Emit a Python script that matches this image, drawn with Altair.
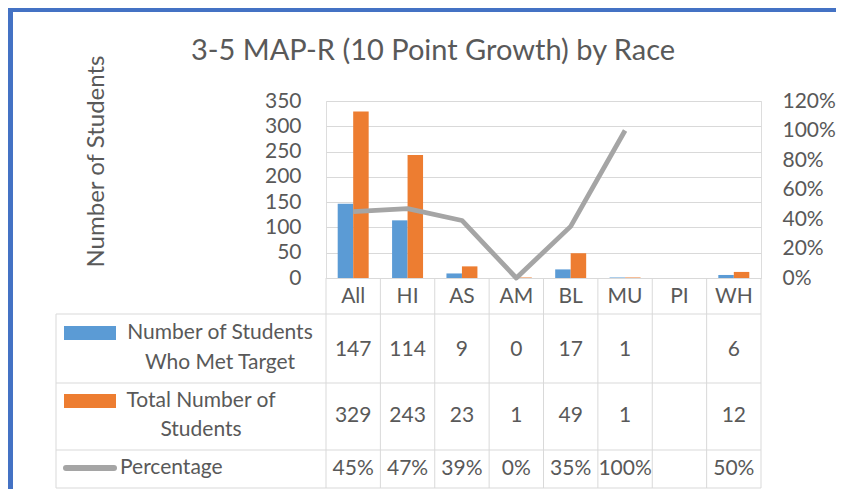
import altair as alt
import pandas as pd

# ---------------- data ----------------
categories = ["All", "HI", "AS", "AM", "BL", "MU", "PI", "WH"]
met_target = [147, 114, 9, 0, 17, 1, None, 6]
total_students = [329, 243, 23, 1, 49, 1, None, 12]
percentage = [0.45, 0.47, 0.39, 0.0, 0.35, 1.00, None, 0.50]
series_names = ["Number of Students Who Met Target", "Total Number of Students", "Percentage"]
left_ticks = [0, 50, 100, 150, 200, 250, 300, 350]
right_ticks = [0, 0.2, 0.4, 0.6, 0.8, 1.0, 1.2]
title_text = "3-5 MAP-R (10 Point Growth) by Race"
y_title = "Number of Students"
row_header_lines = [["Number of Students", "Who Met Target"], ["Total Number of", "Students"], ["Percentage"]]

# ---------------- styles ----------------
BLUE, ORANGE, GRAY = "#5B9BD5", "#ED7D31", "#A5A5A5"
GRID, TXT, FRAME = "#D9D9D9", "#595959", "#4472C4"
FONT = "Lato"
FS = 21
W, H = 435, 177

bar_rows = []
for c, m, t in zip(categories, met_target, total_students):
    if m is not None:
        bar_rows.append({"category": c, "series": series_names[0], "value": m})
    if t is not None:
        bar_rows.append({"category": c, "series": series_names[1], "value": t})
bar_df = pd.DataFrame(bar_rows)

line_df = pd.DataFrame({"category": categories, "pct": percentage})

table_df = pd.DataFrame({
    "category": categories,
    "met": ["" if v is None else str(v) for v in met_target],
    "total": ["" if v is None else str(v) for v in total_students],
    "pctlabel": ["" if v is None else f"{round(v * 100)}%" for v in percentage],
})
one = pd.DataFrame({"k": [0]})

xscale = alt.Scale(domain=categories, paddingInner=0, paddingOuter=0)
xaxis = alt.Axis(title=None, orient="bottom", labelFont=FONT, labelFontSize=FS,
                 labelColor=TXT, labelPadding=18, labelBaseline="middle", labelAngle=0,
                 ticks=False, domainColor=GRID, domainWidth=1, grid=False)


def xenc(**kw):
    return alt.X("category:N", scale=xscale, axis=xaxis, **kw)


bars = alt.Chart(bar_df).mark_bar().encode(
    x=xenc(),
    xOffset=alt.XOffset("series:N", scale=alt.Scale(domain=series_names[:2], paddingInner=0,
                                                    paddingOuter=0.755)),
    y=alt.Y("value:Q", scale=alt.Scale(domain=[0, 350], nice=False),
            axis=alt.Axis(orient="left", values=left_ticks, title=y_title, grid=True,
                          gridColor=GRID, gridWidth=1, domain=False, ticks=False,
                          labelPadding=25, labelFont=FONT, labelFontSize=FS, labelColor=TXT,
                          titleFont=FONT, titleFontSize=24, titleFontWeight="normal",
                          titleColor=TXT, titleAngle=270, titleX=-230, titleY=60,
                          titleAlign="center", titleBaseline="middle")),
    color=alt.Color("series:N", scale=alt.Scale(domain=series_names[:2], range=[BLUE, ORANGE]),
                    legend=None),
)

line = alt.Chart(line_df).mark_line(color=GRAY, strokeWidth=4.8, strokeCap="butt",
                                    strokeJoin="round").encode(
    x=xenc(),
    y=alt.Y("pct:Q", scale=alt.Scale(domain=[0, 1.2], nice=False),
            axis=alt.Axis(orient="right", values=right_ticks, format=".0%", title=None,
                          grid=False, domain=False, ticks=False, labelPadding=21,
                          labelFont=FONT, labelFontSize=FS, labelColor=TXT)),
)

# table vertical lines at category boundaries
vlines = alt.Chart(table_df).mark_rule(color=GRID, strokeWidth=1).encode(
    x=xenc(bandPosition=0), y=alt.value(H), y2=alt.value(387))
vlast = alt.Chart(table_df.tail(1)).mark_rule(color=GRID, strokeWidth=1).encode(
    x=xenc(bandPosition=1), y=alt.value(H), y2=alt.value(387))

layers = [bars, vlines, vlast]

# table horizontal lines and left border
for yy in [213, 282, 349, 387]:
    layers.append(alt.Chart(one).mark_rule(color=GRID, strokeWidth=1).encode(
        x=alt.value(-270), x2=alt.value(W), y=alt.value(yy)))
layers.append(alt.Chart(one).mark_rule(color=GRID, strokeWidth=1).encode(
    x=alt.value(-270), y=alt.value(213), y2=alt.value(387)))

# table values
for field, yy in [("met", 249), ("total", 315), ("pctlabel", 368)]:
    layers.append(alt.Chart(table_df).mark_text(font=FONT, fontSize=FS, color=TXT,
                                                baseline="middle", align="center").encode(
        x=xenc(), y=alt.value(yy), text=f"{field}:N"))

# row headers
header_pos = [[(-106, 232), (-106, 262)], [(-125, 300), (-125, 329)]]
for lines_, poss in zip(row_header_lines[:2], header_pos):
    for txt, (xx, yy) in zip(lines_, poss):
        layers.append(alt.Chart(one).mark_text(font=FONT, fontSize=FS, color=TXT,
                                               baseline="middle", align="center").encode(
            x=alt.value(xx), y=alt.value(yy), text=alt.value(txt)))
layers.append(alt.Chart(one).mark_text(font=FONT, fontSize=FS, color=TXT,
                                       baseline="middle", align="left").encode(
    x=alt.value(-206), y=alt.value(367), text=alt.value(row_header_lines[2][0])))

# legend keys
layers.append(alt.Chart(one).mark_rect(color=BLUE).encode(
    x=alt.value(-262), x2=alt.value(-210), y=alt.value(225), y2=alt.value(239)))
layers.append(alt.Chart(one).mark_rect(color=ORANGE).encode(
    x=alt.value(-262), x2=alt.value(-210), y=alt.value(293), y2=alt.value(307)))
layers.append(alt.Chart(one).mark_rule(color=GRAY, strokeWidth=6, strokeCap="round").encode(
    x=alt.value(-260), x2=alt.value(-212), y=alt.value(367)))

# chart title
layers.append(alt.Chart(one).mark_text(font=FONT, fontSize=29, color=TXT,
                                       baseline="alphabetic", align="center").encode(
    x=alt.value(107), y=alt.value(-41), text=alt.value(title_text)))

# chart frame
layers.append(alt.Chart(one).mark_rule(color=FRAME, strokeWidth=5).encode(
    x=alt.value(-315.5), y=alt.value(-93), y2=alt.value(390)))
layers.append(alt.Chart(one).mark_rule(color=FRAME, strokeWidth=5).encode(
    x=alt.value(-318), x2=alt.value(520), y=alt.value(-91.5)))

layers.append(line)

chart = alt.layer(*layers).resolve_scale(y="independent").properties(
    width=W, height=H,
    autosize=alt.AutoSizeParams(type="none"),
    padding={"left": 318, "top": 93, "right": 75, "bottom": 211},
).configure_view(stroke=None).configure(background="white")

chart.save("out.html", embed_options={"renderer": "svg", "actions": False})
